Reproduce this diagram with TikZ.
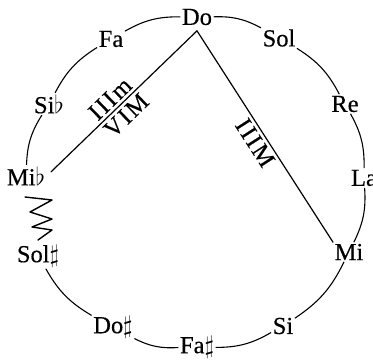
\documentclass[tikz,border=0pt]{standalone}
\usepackage{fontspec}
\setmainfont{Liberation Serif}[FakeBold=0.4]
\usepackage{tikz}

\begin{document}
\begin{tikzpicture}[
    x=1pt, y=1pt,
    notelabel/.style={inner sep=1.5pt, font=\fontsize{24.5}{28}\selectfont},
    notearc/.style={draw=black, line width=1.1pt, bend left=15},
    chordline/.style={draw=black, line width=1.2pt, line cap=round, line join=round},
    chordlabel/.style={font=\fontsize{24.5}{28}\selectfont\addfontfeatures{LetterSpace=8}, sloped, inner sep=3pt}
]
  \useasboundingbox (0,0) rectangle (373,360);
  \node[notelabel] (Do) at (197,343) {Do};
  \node[notelabel] (Sol) at (279,322) {Sol};
  \node[notelabel] (Re) at (345,256) {Re};
  \node[notelabel] (La) at (364,182) {La};
  \node[notelabel] (Mi) at (349,108) {Mi};
  \node[notelabel] (Si) at (283,34) {Si};
  \node[notelabel] (Fas) at (197,13) {Fa$\sharp$};
  \node[notelabel] (Dos) at (113,33) {Do$\sharp$};
  \node[notelabel] (Sols) at (38,104) {Sol$\sharp$};
  \node[notelabel] (Mib) at (26,184) {Mi$\flat$};
  \node[notelabel] (Sib) at (49,256) {Si$\flat$};
  \node[notelabel] (Fa) at (111,321) {Fa};
  % circle of fifths, broken between Mib and Sol#
  \foreach \a/\b in {Do/Sol, Sol/Re, Re/La, La/Mi, Mi/Si, Si/Fas, Fas/Dos, Dos/Sols, Mib/Sib, Sib/Fa, Fa/Do}
    \draw[notearc] (\a) to (\b);
  \coordinate (apex) at ([yshift=-4pt]Do.south);
  \draw[chordline] (apex) -- node[chordlabel, below, pos=0.5] {IIIM} (Mi.north west);
  \draw[chordline, shorten <=6pt] (Mib.east) -- node[chordlabel, above, pos=0.475] {IIIm}
    node[chordlabel, below, pos=0.475] {VIM} (apex);
  % enharmonic jump
  \draw[chordline, line width=1.4pt] (25,163) -- (52,160) -- (30,148) -- (52,141) -- (32,133) -- (52,130) -- (38,120);
\end{tikzpicture}
\end{document}
